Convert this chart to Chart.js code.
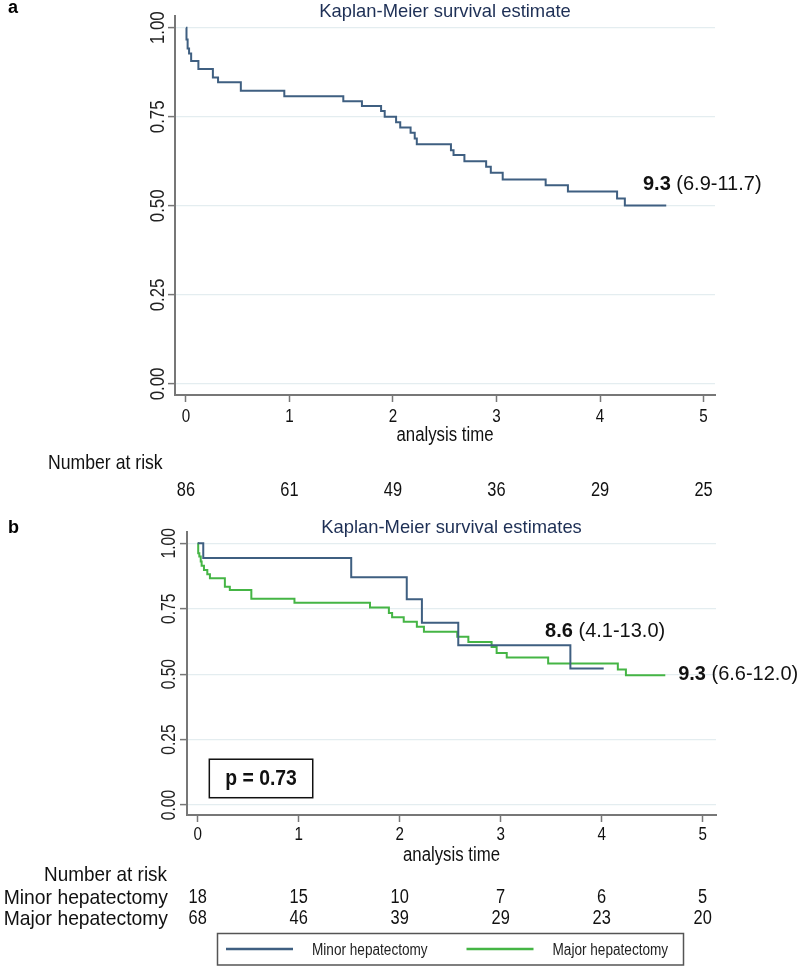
<!DOCTYPE html>
<html>
<head>
<meta charset="utf-8">
<script src="https://cdn.jsdelivr.net/npm/chart.js@4.4.1/dist/chart.umd.min.js"></script>
<style>
  html, body { margin: 0; padding: 0; background: #fff; }
  #wrap { position: relative; width: 797px; height: 968px; }
  canvas { position: absolute; left: 0; }
</style>
</head>
<body>
<div id="wrap">
  <canvas id="chartA" width="797" height="500" style="top:0px"></canvas>
  <canvas id="chartB" width="797" height="468" style="top:500px"></canvas>
</div>
<script>
// ticks
const timeTicks = [0, 1, 2, 3, 4, 5];
const survTicks = [0, 0.25, 0.5, 0.75, 1];

// panel a: all patients
const allTimes = [0, 0.005, 0.016, 0.03, 0.05, 0.12, 0.26, 0.31, 0.53, 0.95, 1.52, 1.70, 1.885, 1.92, 2.03, 2.07, 2.17, 2.21, 2.23, 2.56, 2.585, 2.69, 2.90, 2.945, 3.06, 3.475, 3.69, 4.165, 4.24, 4.64];
const allSurv  = [1, 0.967, 0.942, 0.928, 0.907, 0.884, 0.860, 0.847, 0.823, 0.808, 0.794, 0.780, 0.766, 0.75, 0.735, 0.72, 0.705, 0.689, 0.673, 0.656, 0.643, 0.625, 0.61, 0.593, 0.574, 0.558, 0.540, 0.521, 0.501, 0.501];
const allAtRisk = [86, 61, 49, 36, 29, 25];
const allMedian = ['9.3', '(6.9-11.7)'];

// panel b: by hepatectomy type
const groupNames = ['Minor hepatectomy', 'Major hepatectomy'];
const minorTimes = [0, 0.055, 1.52, 2.07, 2.22, 2.58, 3.69, 4.02];
const minorSurv  = [1, 0.944, 0.87, 0.786, 0.696, 0.61, 0.522, 0.522];
const majorTimes = [0, 0.005, 0.016, 0.03, 0.039, 0.062, 0.095, 0.121, 0.269, 0.318, 0.531, 0.958, 1.706, 1.893, 1.925, 2.04, 2.17, 2.24, 2.57, 2.68, 2.91, 2.96, 3.06, 3.47, 4.16, 4.24, 4.63];
const majorSurv  = [1, 0.962, 0.949, 0.93, 0.914, 0.898, 0.882, 0.866, 0.834, 0.821, 0.788, 0.773, 0.755, 0.734, 0.717, 0.70, 0.681, 0.662, 0.643, 0.623, 0.604, 0.581, 0.564, 0.541, 0.518, 0.496, 0.496];
const minorAtRisk = [18, 15, 10, 7, 6, 5];
const majorAtRisk = [68, 46, 39, 29, 23, 20];
const minorMedian = ['8.6', '(4.1-13.0)'];
const majorMedian = ['9.3', '(6.6-12.0)'];
const pText = 'p = 0.73';

const FONT = '"Liberation Sans", Arial, Helvetica, sans-serif';
const BLUE = '#3f5f81';
const GREEN = '#45b545';
const NAVY = '#1d2f55';
const NARROW = 0.84;   // stata-style condensed text

function pts(times, surv) {
  return times.map((t, i) => ({ x: t, y: surv[i] }));
}

function curve(label, times, surv, color) {
  return {
    label: label,
    data: pts(times, surv),
    borderColor: color,
    backgroundColor: color,
    borderWidth: 2,
    pointRadius: 0,
    stepped: 'before',
    fill: false
  };
}

function scalesFor(xmin, xmax, ymin, ymax, yWidth, xHeight) {
  return {
    x: {
      type: 'linear', min: xmin, max: xmax,
      afterBuildTicks: s => { s.ticks = timeTicks.map(v => ({ value: v })); },
      afterFit: s => { s.height = xHeight; },
      grid: { drawOnChartArea: false, drawTicks: true, tickLength: 7, tickColor: '#777', tickWidth: 1.5 },
      border: { color: '#777', width: 2 },
      ticks: { display: false }
    },
    y: {
      type: 'linear', min: ymin, max: ymax,
      afterBuildTicks: s => { s.ticks = survTicks.map(v => ({ value: v })); },
      afterFit: s => { s.width = yWidth; },
      grid: { color: '#e4edf0', lineWidth: 1.2, drawTicks: true, tickLength: 7, tickColor: '#777', tickWidth: 1.5 },
      border: { color: '#777', width: 2 },
      ticks: { display: false }
    }
  };
}

// text with horizontal squeeze
function txt(ctx, s, x, y, font, sx, align, color, rot) {
  ctx.save();
  ctx.font = font;
  ctx.fillStyle = color || '#111';
  ctx.textAlign = align || 'left';
  ctx.textBaseline = 'alphabetic';
  ctx.translate(x, y);
  if (rot) ctx.rotate(rot);
  ctx.scale(sx, 1);
  ctx.fillText(s, 0, 0);
  ctx.restore();
}

function drawAxes(chart, yBaseX, ySize, xBase, titleBase) {
  const ctx = chart.ctx, xs = chart.scales.x, ys = chart.scales.y, a = chart.chartArea;
  ys.ticks.forEach(t => {
    txt(ctx, t.value.toFixed(2), yBaseX, ys.getPixelForValue(t.value), ySize + 'px ' + FONT, 0.8, 'center', '#222', -Math.PI / 2);
  });
  xs.ticks.forEach(t => {
    txt(ctx, String(t.value), xs.getPixelForValue(t.value), xBase, '19px ' + FONT, 0.8, 'center', '#111');
  });
  txt(ctx, 'analysis time', (a.left + a.right) / 2, titleBase, '20px ' + FONT, NARROW, 'center', '#111');
}

function drawTitle(chart, text, baseY) {
  const a = chart.chartArea;
  txt(chart.ctx, text, (a.left + a.right) / 2, baseY, '18.4px ' + FONT, 1, 'center', NAVY);
}

function drawMedian(chart, med, tx, sy) {
  const ctx = chart.ctx;
  const x = chart.scales.x.getPixelForValue(tx);
  const y = chart.scales.y.getPixelForValue(sy);
  ctx.save();
  ctx.font = 'bold 20px ' + FONT;
  const w = ctx.measureText(med[0] + ' ').width;
  ctx.restore();
  txt(ctx, med[0], x, y, 'bold 20px ' + FONT, 1, 'left', '#111');
  txt(ctx, med[1], x + w, y, '20px ' + FONT, 1, 'left', '#111');
}

function drawRiskRow(chart, values, baseY) {
  const xs = chart.scales.x;
  values.forEach((v, i) => txt(chart.ctx, String(v), xs.getPixelForValue(timeTicks[i]), baseY, '20px ' + FONT, 0.82, 'center', '#111'));
}

const decorA = {
  id: 'decorA',
  afterDraw(chart) {
    txt(chart.ctx, 'a', 8, 13, 'bold 18px ' + FONT, 1, 'left', '#000');
    drawTitle(chart, 'Kaplan-Meier survival estimate', 16.5);
    drawAxes(chart, 163.5, 21, 422, 441);
    drawMedian(chart, allMedian, 4.415, 0.5445);
    txt(chart.ctx, 'Number at risk', 48, 469, '21px ' + FONT, 0.84, 'left', '#111');
    drawRiskRow(chart, allAtRisk, 496);
  }
};

const decorB = {
  id: 'decorB',
  afterDraw(chart) {
    const ctx = chart.ctx, xs = chart.scales.x, ys = chart.scales.y;
    txt(ctx, 'b', 8, 33, 'bold 18px ' + FONT, 1, 'left', '#000');
    drawTitle(chart, 'Kaplan-Meier survival estimates', 33.3);
    drawAxes(chart, 175, 19.5, 340, 361);
    drawMedian(chart, minorMedian, 3.44, 0.643);
    drawMedian(chart, majorMedian, 4.757, 0.478);

    // p-value box
    const bx0 = xs.getPixelForValue(0.115), bx1 = xs.getPixelForValue(1.139);
    const by0 = ys.getPixelForValue(0.175), by1 = ys.getPixelForValue(0.028);
    ctx.save();
    ctx.strokeStyle = '#111';
    ctx.lineWidth = 1.5;
    ctx.strokeRect(bx0, by0, bx1 - bx0, by1 - by0);
    ctx.restore();
    txt(ctx, pText, (bx0 + bx1) / 2, (by0 + by1) / 2 + 7, 'bold 22px ' + FONT, 0.88, 'center', '#111');

    // number at risk table
    txt(ctx, 'Number at risk', 167, 381, '21px ' + FONT, 0.9, 'right', '#111');
    txt(ctx, groupNames[0], 168, 404, '21px ' + FONT, 0.92, 'right', '#111');
    txt(ctx, groupNames[1], 168, 425, '21px ' + FONT, 0.92, 'right', '#111');
    drawRiskRow(chart, minorAtRisk, 403);
    drawRiskRow(chart, majorAtRisk, 424);

    // legend
    ctx.save();
    ctx.strokeStyle = '#555';
    ctx.lineWidth = 1.5;
    ctx.strokeRect(217.5, 433.5, 466, 31.5);
    const lx = [226, 466.5];
    chart.data.datasets.forEach((d, i) => {
      ctx.strokeStyle = d.borderColor;
      ctx.lineWidth = 2.5;
      ctx.beginPath();
      ctx.moveTo(lx[i], 449);
      ctx.lineTo(lx[i] + 67, 449);
      ctx.stroke();
      txt(ctx, d.label, lx[i] + 86, 455, '16px ' + FONT, 0.85, 'left', '#222');
    });
    ctx.restore();
  }
};

const common = {
  responsive: false,
  animation: false,
  plugins: { legend: { display: false }, tooltip: { enabled: false }, title: { display: false } }
};

new Chart(document.getElementById('chartA'), {
  type: 'line',
  data: { datasets: [curve('All patients', allTimes, allSurv, BLUE)] },
  options: Object.assign({}, common, {
    layout: { padding: { left: 0, top: 16, right: 82, bottom: 52 } },
    scales: scalesFor(-0.106, 5.111, -0.031, 1.033, 175, 53)
  }),
  plugins: [decorA]
});

new Chart(document.getElementById('chartB'), {
  type: 'line',
  data: { datasets: [
    curve(groupNames[0], minorTimes, minorSurv, BLUE),
    curve(groupNames[1], majorTimes, majorSurv, GREEN)
  ] },
  options: Object.assign({}, common, {
    layout: { padding: { left: 0, top: 32, right: 81, bottom: 101 } },
    scales: scalesFor(-0.106, 5.132, -0.038, 1.043, 187, 52)
  }),
  plugins: [decorB]
});
</script>
</body>
</html>
